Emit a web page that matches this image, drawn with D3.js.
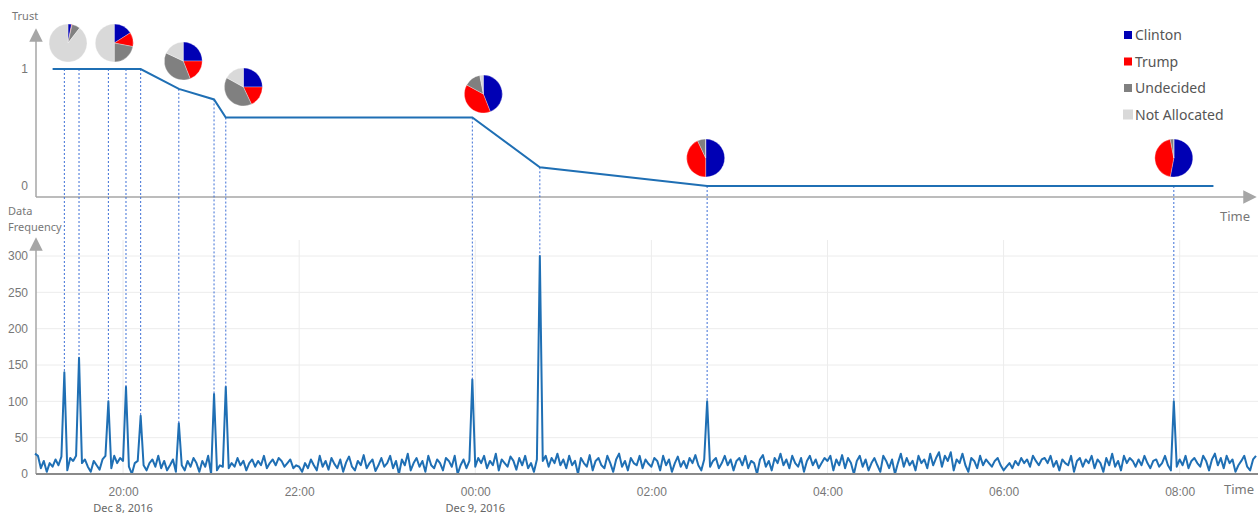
<!DOCTYPE html>
<html><head><meta charset="utf-8">
<script src="https://cdn.jsdelivr.net/npm/d3@7"></script>
<style>body{margin:0;background:#fff}svg{display:block;font-family:"Noto Sans",sans-serif}</style>
</head><body><svg id="c" width="1258" height="516"></svg>
<script>
// ---- data ----
const startTime = new Date(2016, 11, 8, 19, 0);
const endTime = new Date(2016, 11, 9, 8, 52);
const stepMinutes = 2;
// data frequency, one value per 2 minutes from 19:00
const freqValues = [
28,25,8,18,3,15,10,20,12,24,140,5,22,18,25,160,15,20,10,3,18,12,6,20,25,100,8,25,15,22,
18,120,10,0,15,18,80,12,5,15,20,10,25,8,18,5,12,20,3,70,12,5,18,10,22,15,3,18,10,25,
0,110,5,12,10,120,8,15,10,22,12,18,5,15,20,10,18,12,25,8,15,20,12,22,18,10,15,20,8,12,
10,3,15,8,20,12,5,25,10,18,6,22,14,8,20,3,16,24,10,5,18,12,26,8,15,20,4,12,22,10,
15,25,8,18,0,20,12,28,5,15,22,10,18,3,25,12,8,20,15,5,22,18,10,25,0,12,20,8,18,130,
10,22,15,25,8,18,12,28,5,20,15,10,24,18,6,22,12,25,8,15,3,20,300,18,25,10,22,15,28,12,
20,8,25,12,18,0,22,15,10,26,5,18,22,12,8,25,15,3,20,28,10,18,5,22,15,12,25,8,20,14,
10,22,18,5,25,12,20,3,15,24,10,18,8,22,15,26,12,5,20,100,10,18,22,8,15,25,12,20,5,18,
22,12,25,8,18,15,0,20,26,10,18,5,22,15,28,12,20,8,25,15,10,22,3,18,25,12,20,8,15,22,
18,25,5,20,12,26,8,22,15,0,18,25,10,20,5,15,22,12,3,25,18,8,20,0,15,28,10,22,12,18,
5,25,15,20,8,28,12,22,30,10,25,18,30,5,20,15,28,12,3,22,18,8,25,12,20,15,10,18,22,12,
5,10,15,8,18,12,22,15,20,10,25,18,12,20,22,15,25,10,18,5,20,15,12,25,3,18,22,10,20,15,
25,8,20,15,3,22,12,28,10,18,5,25,15,22,18,10,20,12,25,15,8,18,20,10,15,25,12,5,100,10,
20,12,25,8,18,22,15,10,25,18,5,20,28,12,22,8,25,15,20,3,12,18,25,10,5,20,25
];
// events (minutes after 19:00), their frequency peak and trust level
const eventMinutes = [20,30,50,62,72,98,122,130,298,344,458,776];
const eventFreq =    [140,160,100,120,80,70,110,120,130,300,100,100];
const eventTrust =   [1,1,1,1,1,0.83,0.74,0.585,0.585,0.16,0,0];
// trust line
const trustMinutes = [12,72,98,122,130,298,344,458,803];
const trustValues  = [1,1,0.83,0.74,0.585,0.585,0.16,0,0];
// pies
const pieMinutes = [22.5,54,101,142,305.5,457,776];
const pieLevel   = [1.222,1.222,1.068,0.846,0.786,0.239,0.239];
const candidates = ["Clinton","Trump","Undecided","Not Allocated"];
const colors = ["#0000b4","#ff0000","#808080","#d9d9d9"];
const clintonShare   = [0.03,0.16,0.25,0.25,0.44,0.50,0.53];
const trumpShare     = [0.005,0.12,0.19,0.18,0.39,0.43,0.44];
const undecidedShare = [0.07,0.22,0.38,0.40,0.14,0.07,0.03];
const notAllocShare  = [0.895,0.50,0.18,0.17,0.03,0,0];
const freqTicks = [0,50,100,150,200,250,300];
const trustTicks = [0,1];
const timeTicks = [new Date(2016,11,8,20),new Date(2016,11,8,22),new Date(2016,11,9,0),
  new Date(2016,11,9,2),new Date(2016,11,9,4),new Date(2016,11,9,6),new Date(2016,11,9,8)];

// ---- drawing ----
const svg = d3.select("#c");
const axisCol = "#a6a6a6", textCol = "#777", lineCol = "#1f6fb4";
const minToDate = m => new Date(startTime.getTime() + m*60000);
const x = d3.scaleTime().domain([startTime, endTime]).range([35, 1256]);
const yF = d3.scaleLinear().domain([0,300]).range([474,256]);
const yT = d3.scaleLinear().domain([0,1]).range([186,69]);

svg.append("defs").append("marker").attr("id","arr").attr("viewBox","0 0 10 10")
  .attr("refX",5).attr("refY",5).attr("markerWidth",9).attr("markerHeight",9)
  .attr("orient","auto").append("path").attr("d","M0,0L10,5L0,10Z").attr("fill",axisCol);

// bottom grid
svg.append("g").selectAll("line").data(freqTicks.slice(1)).join("line")
  .attr("x1",36).attr("x2",1258).attr("y1",d=>yF(d)).attr("y2",d=>yF(d))
  .attr("stroke","#ececec");
svg.append("g").selectAll("line").data(timeTicks).join("line")
  .attr("x1",d=>x(d)).attr("x2",d=>x(d)).attr("y1",240).attr("y2",474)
  .attr("stroke","#ececec");

// bottom axes
svg.append("line").attr("x1",36).attr("x2",36).attr("y1",474).attr("y2",244)
  .attr("stroke",axisCol).attr("stroke-width",1.5).attr("marker-end","url(#arr)");
svg.append("g").attr("transform","translate(0,474)")
  .call(d3.axisBottom(x).tickValues(timeTicks).tickSize(0).tickFormat(d3.timeFormat("%H:%M")))
  .call(g=>g.select(".domain").remove())
  .call(g=>g.selectAll("text").attr("fill",textCol).attr("font-size",12).attr("dy","1.55em"));
svg.append("g").selectAll("text").data([timeTicks[0],timeTicks[2]]).join("text")
  .attr("x",d=>x(d)).attr("y",512).attr("text-anchor","middle").attr("font-size",11)
  .attr("fill","#666").text(d=>d3.timeFormat("%b %-d, %Y")(d));
svg.append("g").attr("transform","translate(29,0)")
  .call(d3.axisLeft(yF).tickValues(freqTicks).tickSize(0).tickFormat(d3.format("d")))
  .call(g=>g.select(".domain").remove())
  .call(g=>g.selectAll("text").attr("fill",textCol).attr("font-size",12).attr("x",-1));
svg.append("text").attr("x",8).attr("y",215).attr("font-size",11).attr("fill",textCol).text("Data");
svg.append("text").attr("x",8).attr("y",231).attr("font-size",11).attr("fill",textCol).text("Frequency");
svg.append("text").attr("x",1224).attr("y",494).attr("font-size",13).attr("fill",textCol).text("Time");

// freq line
const freqData = freqValues.map((v,i)=>({t:minToDate(i*stepMinutes), v}));
svg.append("path").datum(freqData).attr("fill","none").attr("stroke",lineCol)
  .attr("stroke-width",2).attr("stroke-linejoin","round")
  .attr("d",d3.line().x(d=>x(d.t)).y(d=>yF(d.v)));
svg.append("line").attr("x1",36).attr("x2",1258).attr("y1",474).attr("y2",474)
  .attr("stroke","#8a8a8a").attr("stroke-width",2);

// top axes
svg.append("line").attr("x1",36).attr("x2",36).attr("y1",197).attr("y2",35)
  .attr("stroke",axisCol).attr("stroke-width",1.5).attr("marker-end","url(#arr)");
svg.append("line").attr("x1",36).attr("x2",1250).attr("y1",197).attr("y2",197)
  .attr("stroke",axisCol).attr("stroke-width",1.5).attr("marker-end","url(#arr)");
svg.append("g").attr("transform","translate(29,0)")
  .call(d3.axisLeft(yT).tickValues(trustTicks).tickSize(0).tickFormat(d3.format("d")))
  .call(g=>g.select(".domain").remove())
  .call(g=>g.selectAll("text").attr("fill",textCol).attr("font-size",12).attr("x",-1));
svg.append("text").attr("x",12).attr("y",20).attr("font-size",11).attr("fill",textCol).text("Trust");
svg.append("text").attr("x",1220).attr("y",221).attr("font-size",13).attr("fill",textCol).text("Time");

// dashed connectors
svg.append("g").selectAll("line").data(eventMinutes).join("line")
  .attr("x1",d=>x(minToDate(d))).attr("x2",d=>x(minToDate(d)))
  .attr("y1",(d,i)=>yT(eventTrust[i])).attr("y2",(d,i)=>yF(eventFreq[i]))
  .attr("stroke","#3d6fd6").attr("stroke-width",1).attr("stroke-dasharray","2,2");

// trust line
const trustData = trustMinutes.map((m,i)=>({t:minToDate(m), v:trustValues[i]}));
svg.append("path").datum(trustData).attr("fill","none").attr("stroke",lineCol)
  .attr("stroke-width",2).attr("d",d3.line().x(d=>x(d.t)).y(d=>yT(d.v)));

// pies
const pie = d3.pie().sort(null).value(d=>d);
const arc = d3.arc().innerRadius(0).outerRadius(19);
pieMinutes.forEach((m,i)=>{
  const vals=[clintonShare[i],trumpShare[i],undecidedShare[i],notAllocShare[i]];
  const g=svg.append("g").attr("transform",`translate(${x(minToDate(m))},${yT(pieLevel[i])})`);
  g.selectAll("path").data(pie(vals)).join("path").attr("d",arc)
    .attr("fill",(d,j)=>colors[j]).attr("stroke","#fff").attr("stroke-width",0.3);
});

// legend
const lg = svg.append("g").selectAll("g").data(candidates).join("g")
  .attr("transform",(d,i)=>`translate(1124,${35+i*26.5})`);
lg.append("rect").attr("x",(d,i)=>i===3?-1:0).attr("y",(d,i)=>i===3?-5:-4)
  .attr("width",(d,i)=>i===3?10:8).attr("height",(d,i)=>i===3?10:8).attr("fill",(d,i)=>colors[i]);
lg.append("text").attr("x",11).attr("y",5).attr("font-size",14).attr("fill","#555").text(d=>d);
</script></body></html>
